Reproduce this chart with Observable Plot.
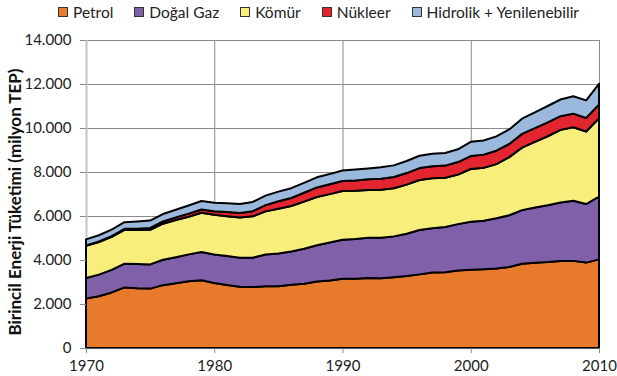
<!DOCTYPE html>
<html><head><meta charset="utf-8">
<script src="https://cdn.jsdelivr.net/npm/d3@7"></script>
<script src="https://cdn.jsdelivr.net/npm/@observablehq/plot@0.6"></script>
<style>
body{margin:0;background:#fff;}
#wrap{position:relative;width:617px;height:376px;font-family:Lato,sans-serif;overflow:hidden;}
#legend{position:absolute;left:58px;top:2px;display:flex;gap:21px;font-size:15.5px;color:#222;white-space:nowrap;line-height:20px;}
#legend .it{display:flex;align-items:center;gap:5px;}
#legend .sw{width:8px;height:8px;border:1px solid #333;}
#ytitle{position:absolute;left:14px;top:202px;transform:translate(-50%,-50%) rotate(-90deg);font-weight:bold;font-size:17px;white-space:nowrap;color:#111;}
#chart{position:absolute;left:0;top:0;}
</style></head><body>
<div id="wrap"><div id="chart"></div><div id="legend"></div><div id="ytitle">Birincil Enerji Tüketimi (milyon TEP)</div></div>
<script>
const years = d3.range(1970, 2011);
const types = ["Petrol", "Doğal Gaz", "Kömür", "Nükleer", "Hidrolik + Yenilenebilir"];
const colors = ["#E87B2B", "#8061A9", "#F7EE7B", "#E32530", "#9BB9DD"];
const petrol = [2254,2356,2526,2754,2719,2699,2857,2944,3034,3079,2958,2867,2786,2768,2812,2802,2875,2925,3018,3067,3148,3148,3187,3168,3217,3271,3347,3435,3445,3522,3562,3583,3614,3680,3832,3880,3910,3953,3960,3882,4028];
const gaz = [924,980,1025,1080,1097,1102,1154,1183,1222,1288,1296,1313,1315,1336,1438,1491,1510,1588,1656,1728,1769,1805,1819,1847,1857,1924,2017,2010,2054,2109,2176,2206,2283,2354,2436,2511,2575,2661,2734,2661,2858];
const komur = [1470,1480,1500,1540,1550,1570,1640,1690,1710,1780,1800,1810,1830,1880,1960,2040,2070,2140,2190,2200,2220,2190,2180,2180,2190,2230,2270,2270,2240,2250,2400,2400,2460,2640,2840,2980,3140,3300,3340,3300,3560];
const nukleer = [18,25,34,44,55,84,99,120,144,150,161,189,207,235,285,335,365,403,435,450,453,476,482,500,512,526,545,542,551,571,584,601,611,599,625,627,635,622,619,614,626];
const hidro = [270,285,295,300,330,335,340,345,370,385,390,395,405,420,430,440,445,450,460,460,480,495,495,520,525,550,560,570,575,580,650,640,650,660,690,710,740,760,790,800,934];
const yTicks = [0,2000,4000,6000,8000,10000,12000,14000];
const xTicks = [1970,1980,1990,2000,2010];

const series = [petrol, gaz, komur, nukleer, hidro];
const data = [];
types.forEach((t, i) => years.forEach((y, j) => data.push({year: y, type: t, value: series[i][j]})));

const fmt = d => d3.format(",")(d).replace(/,/g, ".");

const plot = Plot.plot({
  width: 617, height: 376,
  marginLeft: 86, marginRight: 18, marginTop: 40, marginBottom: 28,
  style: {fontFamily: "Lato, sans-serif", fontSize: "15px", color: "#222", background: "transparent"},
  x: {domain: [1970, 2010]},
  y: {domain: [0, 14000]},
  color: {domain: types, range: colors},
  marks: [
    Plot.ruleY(yTicks.slice(1), {stroke: "#8a8a8a", strokeWidth: 1}),
    Plot.ruleX(xTicks.slice(1), {stroke: "#8a8a8a", strokeWidth: 1}),
    Plot.ruleX([1970], {stroke: "#c4c4c4", strokeWidth: 2}),
    Plot.areaY(data, {x: "year", y: "value", fill: "type", z: "type", order: types, stroke: "#000", strokeWidth: 2, strokeLinejoin: "round"}),
    Plot.ruleY([0], {stroke: "#555", strokeWidth: 1}),
    Plot.axisY({ticks: yTicks, tickFormat: fmt, tickSize: 6, tickPadding: 9, stroke: "#8a8a8a", label: null, fontSize: 15}),
    Plot.axisX({ticks: xTicks, tickFormat: d => String(d), tickSize: 5, tickPadding: 7, stroke: "#8a8a8a", label: null, fontSize: 15})
  ]
});
document.getElementById("chart").appendChild(plot);

const leg = d3.select("#legend");
types.forEach((t, i) => {
  const it = leg.append("div").attr("class", "it");
  it.append("div").attr("class", "sw").style("background", colors[i]);
  it.append("span").text(t);
});
</script>
</body></html>
